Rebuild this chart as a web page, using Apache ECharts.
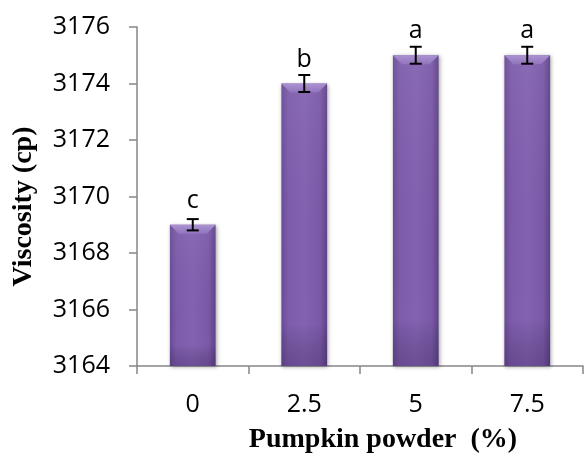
<!DOCTYPE html>
<html>
<head>
<meta charset="utf-8">
<script src="https://cdn.jsdelivr.net/npm/echarts@6/dist/echarts.min.js"></script>
<style>
html,body{margin:0;padding:0;background:#fff;}
#c{width:584px;height:459px;}
</style>
</head>
<body>
<div id="c"></div>
<script>
var categories = ['0', '2.5', '5', '7.5'];
var viscosity = [3169, 3174, 3175, 3175];
var errors = [0.2, 0.3, 0.3, 0.3];
var letters = ['c', 'b', 'a', 'a'];
var yTicks = {min: 3164, max: 3176, interval: 2};

var chart = echarts.init(document.getElementById('c'), null, {renderer: 'canvas'});

var data = categories.map(function (c, i) {
  return [i, viscosity[i], errors[i], letters[i]];
});

function renderBar(params, api) {
  var idx = api.value(0);
  var val = api.value(1);
  var err = api.value(2);
  var top = api.coord([idx, val]);
  var base = api.coord([idx, yTicks.min]);
  var band = api.size([1, 0])[0];
  var w = band * 0.41;
  var x0 = top[0] - w / 2;
  var x1 = top[0] + w / 2;
  var yT = top[1];
  var yB = base[1];
  var bev = 9;
  var eHi = api.coord([idx, val + err])[1];
  var eLo = api.coord([idx, val - err])[1];
  var cap = 6;
  return {
    type: 'group',
    children: [
      {
        type: 'rect',
        shape: {x: x0, y: yT, width: w, height: yB - yT},
        style: {
          fill: new echarts.graphic.LinearGradient(0, 0, 1, 0, [
            {offset: 0, color: '#6a4b96'},
            {offset: 0.15, color: '#7d5cab'},
            {offset: 0.5, color: '#8362b2'},
            {offset: 0.85, color: '#7a59a7'},
            {offset: 1, color: '#5e4288'}
          ]),
          shadowBlur: 4,
          shadowColor: 'rgba(0,0,0,0.35)',
          shadowOffsetX: 1,
          shadowOffsetY: 1
        }
      },
      {
        type: 'rect',
        shape: {x: x0, y: yT, width: w, height: yB - yT},
        style: {
          fill: new echarts.graphic.LinearGradient(0, 0, 0, 1, [
            {offset: 0, color: 'rgba(255,255,255,0.05)'},
            {offset: 0.85, color: 'rgba(0,0,0,0.0)'},
            {offset: 1, color: 'rgba(40,20,70,0.25)'}
          ])
        }
      },
      {
        type: 'polygon',
        shape: {points: [[x0, yT], [x1, yT], [x1 - bev, yT + bev], [x0 + bev, yT + bev]]},
        style: {
          fill: new echarts.graphic.LinearGradient(0, 0, 0, 1, [
            {offset: 0, color: '#ab93d0'},
            {offset: 1, color: '#9274bd'}
          ])
        }
      },
      {
        type: 'line',
        shape: {x1: top[0], y1: eHi, x2: top[0], y2: eLo},
        style: {stroke: '#000', lineWidth: 2}
      },
      {
        type: 'line',
        shape: {x1: top[0] - cap, y1: eHi, x2: top[0] + cap, y2: eHi},
        style: {stroke: '#000', lineWidth: 2}
      },
      {
        type: 'line',
        shape: {x1: top[0] - cap, y1: eLo, x2: top[0] + cap, y2: eLo},
        style: {stroke: '#000', lineWidth: 2}
      },
      {
        type: 'text',
        style: {
          text: api.value(3),
          x: top[0],
          y: yT - 24,
          align: 'center',
          verticalAlign: 'middle',
          fill: '#000',
          font: '25px "Open Sans"'
        }
      }
    ]
  };
}

chart.setOption({
  animation: false,
  backgroundColor: '#fff',
  grid: {left: 137, right: 1, top: 27, bottom: 86, containLabel: false},
  xAxis: {
    type: 'category',
    data: categories,
    name: 'Pumpkin powder  (%)',
    nameLocation: 'middle',
    nameGap: 60,
    nameTextStyle: {fontFamily: 'Liberation Serif', fontWeight: 'bold', fontSize: 28, color: '#000', padding: [0, 0, 0, 46]},
    axisLine: {lineStyle: {color: '#868686', width: 1.5}},
    axisTick: {show: true, length: 8, lineStyle: {color: '#868686', width: 1.5}, alignWithLabel: false},
    axisLabel: {fontFamily: 'Open Sans', fontSize: 25, color: '#000', margin: 26},
    splitLine: {show: false}
  },
  yAxis: {
    type: 'value',
    min: yTicks.min,
    max: yTicks.max,
    interval: yTicks.interval,
    name: 'Viscosity (cp)',
    nameLocation: 'middle',
    nameGap: 99,
    nameRotate: 90,
    nameTextStyle: {fontFamily: 'Liberation Serif', fontWeight: 'bold', fontSize: 28, color: '#000', padding: [0, 20, 0, 0]},
    axisLine: {show: true, lineStyle: {color: '#868686', width: 1.5}},
    axisTick: {show: true, length: 8, lineStyle: {color: '#868686', width: 1.5}},
    axisLabel: {
      fontFamily: 'Open Sans', fontSize: 25, color: '#000', margin: 27,
      formatter: function (v) { return String(v); }
    },
    splitLine: {show: false}
  },
  series: [{
    type: 'custom',
    renderItem: renderBar,
    data: data,
    encode: {x: 0, y: 1},
    clip: false,
    z: 3
  }]
});
</script>
</body>
</html>
